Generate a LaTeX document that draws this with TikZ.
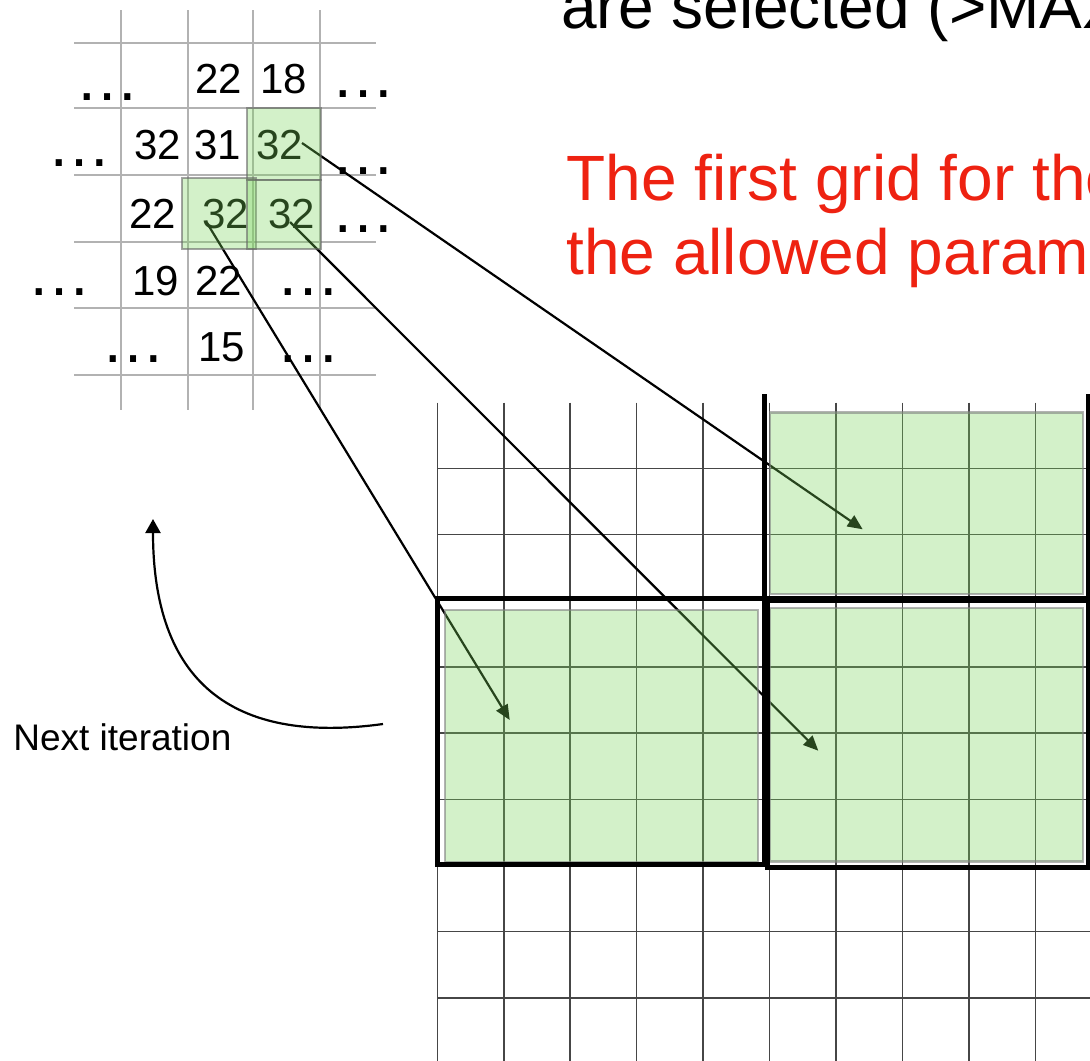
\documentclass[tikz,border=0pt]{standalone}
\usepackage{fontspec}
\setmainfont{Liberation Sans}
\usepackage{tikz}
\usetikzlibrary{arrows.meta}
\definecolor{selgreen}{RGB}{121,212,91}
\definecolor{slidered}{RGB}{238,34,17}
\definecolor{gridgray}{RGB}{70,70,70}
\definecolor{softgray}{RGB}{178,178,178}
\tikzset{
  num/.style={anchor=base, inner sep=0pt, font=\fontsize{21}{24}\selectfont},
  more/.style={anchor=base, inner sep=0pt, font=\fontsize{32}{36}\selectfont},
  big/.style={anchor=base west, inner sep=0pt, font=\fontsize{32}{38}\selectfont},
  chosen/.style={fill=selgreen, fill opacity=0.33, draw=black!60,
                 draw opacity=0.6, line width=0.8pt},
  blockarea/.style={fill=selgreen, fill opacity=0.33, draw=gray,
                    draw opacity=0.6, line width=1.3pt},
  heavy/.style={line width=2.5pt, black},
  jump/.style={-{Triangle[length=7.5pt,width=6.5pt]}, line width=1.1pt, black}
}

\begin{document}
\begin{tikzpicture}[x=0.5pt, y=-0.5pt,
  fine/.style={gridgray, line width=0.75pt},
  faint/.style={softgray, line width=1.4pt}
]
  \useasboundingbox (0,0) rectangle (1090,1060);
  \clip (0,0) rectangle (1090,1060);

  % Small grid
  \foreach \x in {121,188,253,320} \draw[faint] (\x,10) -- (\x,410);
  \foreach \y in {43,108,175,242,308,375} \draw[faint] (74,\y) -- (376,\y);

  % Values
  \node[num] (r1c3) at (219,93)    {22};
  \node[num] (r1c4) at (284,93)    {18};
  \node[num] (r2c2) at (158,159.3) {32};
  \node[num] (r2c3) at (218,159.3) {31};
  \node[num] (r2c4) at (280,159.3) {32};
  \node[num] (r3c2) at (153,228.3) {22};
  \node[num] (r3c3) at (226,228.3) {32};
  \node[num] (r3c4) at (292,228.3) {32};
  \node[num] (r4c2) at (156,295)   {19};
  \node[num] (r4c3) at (219,295)   {22};
  \node[num] (r5c3) at (222,361.7) {15};

  % Dots
  \foreach \n/\x/\y in {dl1/107/100.5, dr1/363.5/97, dl2/79/166, dr2/363.5/174.5,
                        dr3/363.5/232, dl4/59/295, dr4/308/295, dl5/133/362, dr5/308/362}
    \node[more] (\n) at (\x,\y) {…};

  % Big grid
  \foreach \i in {0,...,9}
    \draw[fine] ({437.3+66.45*\i},402.7) -- ({437.3+66.45*\i},1070);
  \foreach \j in {0,...,9}
    \draw[fine] (437.3,{468.3+66.2*\j}) -- (1100,{468.3+66.2*\j});

  % Arrows
  \coordinate (s1) at (302,143);
  \coordinate (s2) at (207,223);
  \coordinate (s3) at (290,222);
  \coordinate (t1) at (862.7,529.3);
  \coordinate (t2) at (509.7,720);
  \coordinate (t3) at (818.3,750.7);
  \draw[jump] (s1) -- (t1);
  \draw[jump] (s2) -- (t2);
  \draw[jump] (s3) -- (t3);

  % Selected cells
  \draw[chosen] (247,108) rectangle (321,180);
  \draw[chosen] (182,178) rectangle (256,249);
  \draw[chosen] (247,180) rectangle (321,249);

  % Selected blocks
  \draw[blockarea] (770,412.3) rectangle (1083,594);
  \draw[blockarea] (445,610) rectangle (758,862);
  \draw[blockarea] (770,608) rectangle (1083,861.7);

  % Block frames
  \draw[heavy] (764,394) |- (1088,598.5) -- (1088,394);
  \draw[heavy] (437,598.5) rectangle (764,864);
  \draw[heavy] (767.5,600) rectangle (1088,867);

  % Loop back
  \coordinate (loopstart) at (383,724);
  \coordinate (loopend) at (153,519);
  \draw[jump, -{Triangle[length=7pt,width=7.5pt]}]
    (loopstart) .. controls (230,745) and (153,680) .. (loopend);
  \node[anchor=base west, inner sep=0pt, font=\fontsize{18.5}{22}\selectfont]
    (loop) at (13,750) {Next iteration};

  % Slide text
  \node[big] (head) at (561,28) {are selected (>MAX};
  \node[big, slidered] (noteone) at (566,200) {The first grid for the};
  \node[big, slidered] (notetwo) at (566,274) {the allowed param};
\end{tikzpicture}
\end{document}
